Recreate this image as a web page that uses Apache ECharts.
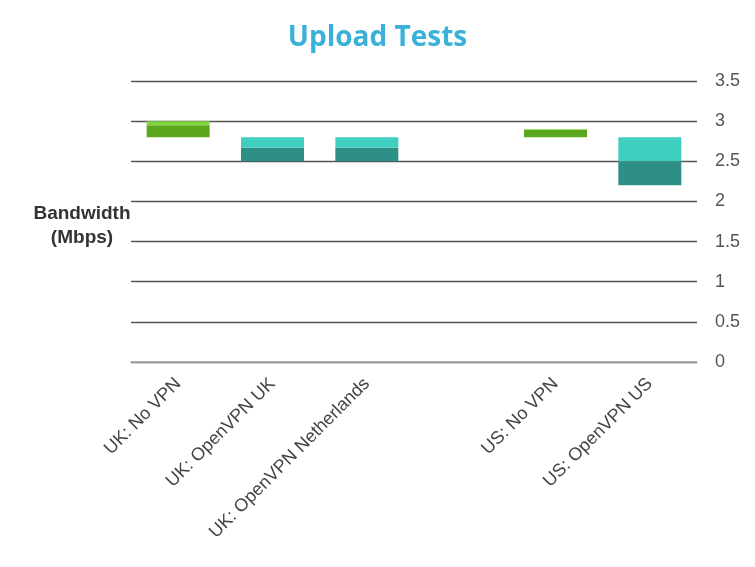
<!DOCTYPE html>
<html>
<head>
<meta charset="utf-8">
<script src="https://cdn.jsdelivr.net/npm/echarts@6/dist/echarts.min.js"></script>
<style>html,body{margin:0;padding:0;background:#fff}#c{width:755px;height:567px}</style>
</head>
<body>
<div id="c"></div>
<script>
const categories = ['UK: No VPN', 'UK: OpenVPN UK', 'UK: OpenVPN Netherlands', '', 'US: No VPN', 'US: OpenVPN US'];
const groups = ['none', 'vpn', 'vpn', 'gap', 'none', 'vpn'];
const lows = [2.8, 2.5, 2.5, null, 2.8, 2.2];
const mids = [2.95, 2.67, 2.67, null, 2.89, 2.5];
const highs = [3.0, 2.8, 2.8, null, 2.9, 2.8];
const yTicks = [0, 0.5, 1, 1.5, 2, 2.5, 3, 3.5];

const darkColors = { none: '#5aa61c', vpn: '#2e8f87', gap: 'transparent' };
const lightColors = { none: '#80d63c', vpn: '#3fcfc1', gap: 'transparent' };

const base = lows.map(v => v);
const darkPart = lows.map((v, i) => v == null ? null : +(mids[i] - v).toFixed(4));
const lightPart = mids.map((v, i) => v == null ? null : +(highs[i] - v).toFixed(4));

const chart = echarts.init(document.getElementById('c'));
chart.setOption({
  animation: false,
  title: [
    { text: 'Upload Tests', left: 'center', top: 19,
      textStyle: { color: '#3bb1d9', fontSize: 28, fontWeight: 'bold', fontFamily: 'Open Sans' } },
    { text: 'Bandwidth\n(Mbps)', left: 77, top: 197, textAlign: 'center',
      textStyle: { color: '#333', fontSize: 19, fontWeight: 'bold', fontFamily: 'Liberation Sans', lineHeight: 24 } }
  ],
  grid: { left: 131, right: 58, top: 81, bottom: 205, containLabel: false },
  xAxis: {
    type: 'category',
    data: categories,
    axisTick: { show: false },
    axisLine: { show: true, lineStyle: { color: '#aaa', width: 1.5 } },
    axisLabel: { interval: 0, rotate: 45, margin: 19, color: '#444', fontSize: 18, fontFamily: 'Liberation Sans' }
  },
  yAxis: {
    type: 'value',
    position: 'right',
    min: yTicks[0],
    max: yTicks[yTicks.length - 1],
    interval: 0.5,
    axisLine: { show: false },
    axisTick: { show: false },
    axisLabel: { margin: 18, color: '#555', fontSize: 18, fontFamily: 'Liberation Sans' },
    splitLine: { lineStyle: { color: '#555', width: 1.4 } }
  },
  series: [
    { type: 'bar', stack: 'r', barWidth: 63, data: base, itemStyle: { color: 'transparent' }, silent: true },
    { type: 'bar', stack: 'r', barWidth: 63, data: darkPart,
      itemStyle: { color: p => darkColors[groups[p.dataIndex]] } },
    { type: 'bar', stack: 'r', barWidth: 63, data: lightPart,
      itemStyle: { color: p => lightColors[groups[p.dataIndex]] } }
  ]
});
</script>
</body>
</html>
